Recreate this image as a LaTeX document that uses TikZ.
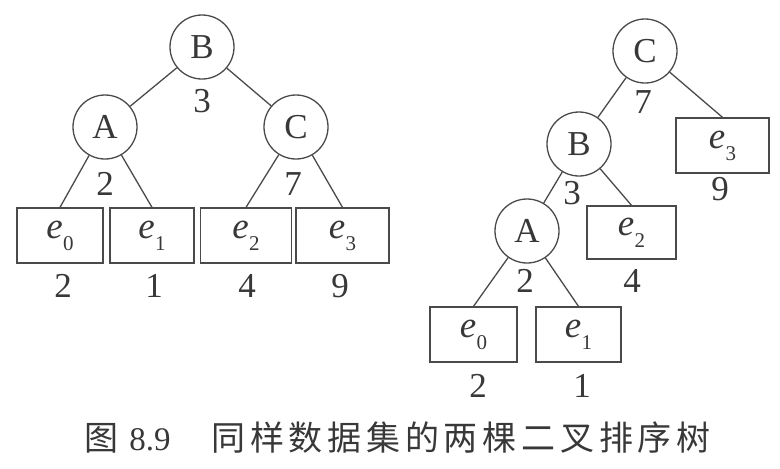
\documentclass[tikz,border=0pt]{standalone}
\usepackage{fontspec}
\setmainfont{Liberation Serif}
\newfontfamily\cjk[LetterSpace=14]{Noto Sans CJK SC}
\definecolor{linec}{HTML}{4A4A4A}
\definecolor{textc}{HTML}{383838}
\newcommand{\ev}[1]{{\fontsize{37}{37}\selectfont\itshape e}\kern0.5pt\raisebox{-12pt}{\fontsize{21}{21}\selectfont #1}}
\tikzset{
  circ/.style={circle, draw=linec, line width=1.3pt, minimum size=64pt, inner sep=0pt,
    font=\fontsize{35}{35}\selectfont, text=textc},
  leaf/.style={rectangle, draw=linec, line width=1.3pt, minimum height=55pt, inner sep=0pt,
    text=textc},
  wlab/.style={anchor=base, inner sep=0pt, font=\fontsize{35}{35}\selectfont, text=textc},
  edge/.style={draw=linec, line width=1.3pt}
}
\begin{document}
\begin{tikzpicture}[x=1pt,y=-1pt]
\useasboundingbox (0,0) rectangle (780,469);
% ---------- left tree ----------
\node[circ] (LB) at (202,47) {B};
\node[circ] (LA) at (105,127) {A};
\node[circ] (LC) at (296,127) {C};
\node[leaf, minimum width=86pt] (Le0) at (60,235.5) {\ev{0}};
\node[leaf, minimum width=84pt] (Le1) at (152,235.5) {\ev{1}};
\node[leaf, minimum width=91pt] (Le2) at (246,235.5) {\ev{2}};
\node[leaf, minimum width=93pt] (Le3) at (342.5,235.5) {\ev{3}};
\draw[edge] (LB) -- (LA);
\draw[edge] (LB) -- (LC);
\draw[edge] (LA) -- (Le0.north);
\draw[edge] (LA) -- (Le1.north);
\draw[edge] (LC) -- (Le2.north);
\draw[edge] (LC) -- (Le3.north);
\node[wlab] (lwB) at (202,112) {3};
\node[wlab] (lwA) at (105,195) {2};
\node[wlab] (lwC) at (293,195) {7};
\node[wlab] (lw0) at (63,297) {2};
\node[wlab] (lw1) at (154,297) {1};
\node[wlab] (lw2) at (247,297) {4};
\node[wlab] (lw3) at (340,297) {9};
% ---------- right tree ----------
\node[circ] (RC) at (645,51) {C};
\node[circ] (RB) at (579,144) {B};
\node[circ] (RA) at (527,231) {A};
\node[leaf, minimum width=93pt] (Re3) at (722.5,145.5) {\ev{3}};
\node[leaf, minimum width=89pt, minimum height=53pt] (Re2) at (631.5,232.5) {\ev{2}};
\node[leaf, minimum width=87pt] (Re0) at (473.5,334.5) {\ev{0}};
\node[leaf, minimum width=85pt] (Re1) at (578.5,334.5) {\ev{1}};
\draw[edge] (RC) -- (RB);
\draw[edge] (RC) -- (Re3.north);
\draw[edge] (RB) -- (RA);
\draw[edge] (RB) -- (Re2.north);
\draw[edge] (RA) -- (Re0.north);
\draw[edge] (RA) -- (Re1.north);
\node[wlab] (rwC) at (643,113) {7};
\node[wlab] (rwB) at (572,204) {3};
\node[wlab] (rw3) at (720,200) {9};
\node[wlab] (rwA) at (525,292) {2};
\node[wlab] (rw2) at (632,292) {4};
\node[wlab] (rw0) at (478,397) {2};
\node[wlab] (rw1) at (582,397) {1};
% ---------- caption ----------
\node[anchor=base, inner sep=0pt, text=textc, font=\fontsize{34}{34}\selectfont] (cap1) at (101,450) {\cjk 图};
\node[anchor=base, inner sep=0pt, text=textc, font=\fontsize{33}{33}\selectfont] (cap2) at (150,450) {8.9};
\node[anchor=base, inner sep=0pt, text=textc, font=\fontsize{34}{34}\selectfont] (cap3) at (461,450) {\cjk 同样数据集的两棵二叉排序树};
\end{tikzpicture}
\end{document}
